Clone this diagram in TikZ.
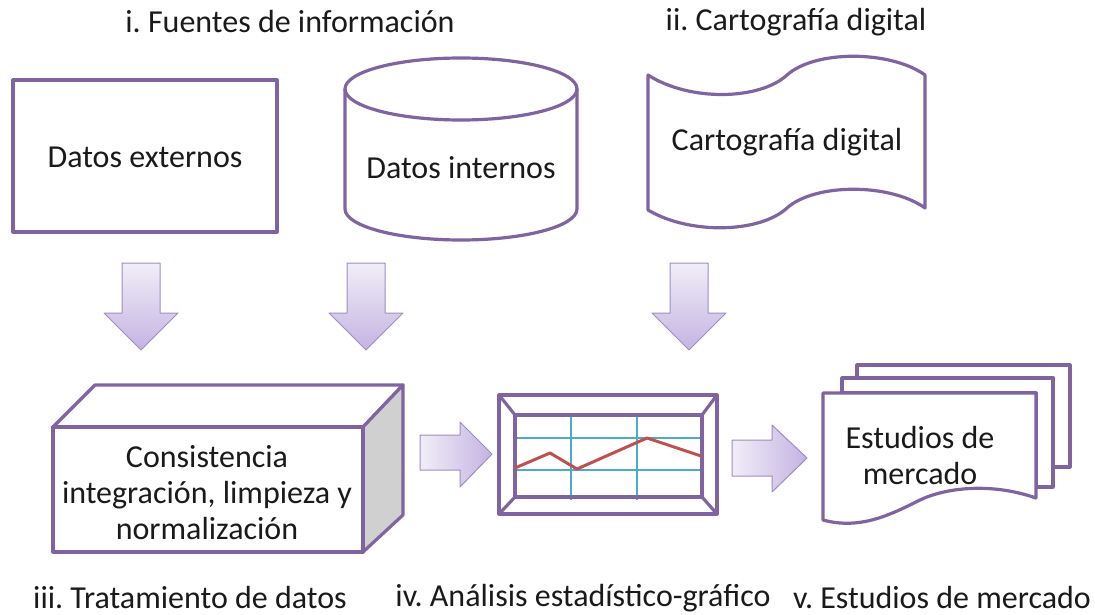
\documentclass[tikz,border=0pt]{standalone}
\usepackage{fontspec}
\setmainfont{Carlito}
\definecolor{purp}{HTML}{8064A2}
\definecolor{arrd}{HTML}{A08CC6}
\definecolor{arrtop}{HTML}{F1EEF8}
\definecolor{arrbot}{HTML}{C4B3E2}
\definecolor{gridc}{HTML}{4BACC6}
\definecolor{redc}{HTML}{C0504D}
\definecolor{sidec}{HTML}{D0D0D0}
\definecolor{txt}{HTML}{1A1A1A}
\frenchspacing
\begin{document}
\begin{tikzpicture}[x=1pt,y=-1pt,line join=round,
  pur/.style={draw=purp,line width=3.2pt},
  lbl/.style={font=\fontsize{32}{36}\selectfont,text=txt,align=center,inner sep=0pt},
  dwnarrow/.style={draw=arrd,line width=1pt,top color=arrtop,bottom color=arrbot},
  rgtarrow/.style={draw=arrd,line width=1pt,left color=arrtop,right color=arrbot},
]
\useasboundingbox (0,0) rectangle (1095,615);

% titles
\node[lbl] (t1) at (290,22) {i. Fuentes de información};
\node[lbl] (t2) at (796,22) {ii. Cartografía digital};
\node[lbl] (t3) at (190,598) {iii. Tratamiento de datos};
\node[lbl] (t4) at (583,598) {iv. Análisis estadístico-gráfico};
\node[lbl] (t5) at (942,598) {v. Estudios de mercado};

% Datos externos
\draw[pur,fill=white] (13,80) rectangle (277,232);
\node[lbl] (ext) at (145,157) {Datos externos};

% Datos internos (cylinder)
\draw[pur,fill=white] (345,89) -- (345,209) arc[start angle=180,end angle=360,x radius=116pt,y radius=31pt] -- (577,89);
\draw[pur] (461,89) ellipse[x radius=116pt,y radius=31pt];
\node[lbl] (int) at (461,168) {Datos internos};

% Cartografia digital (tape)
\draw[pur,fill=white] (648,75) .. controls (690,102) and (760,100) .. (787,75)
  .. controls (815,50) and (890,50) .. (925,75) -- (925,208)
  .. controls (890,183) and (815,183) .. (787,208)
  .. controls (760,233) and (690,235) .. (648,210) -- cycle;
\node[lbl] (car) at (787,142) {Cartografía digital};

% down arrows
\draw[dwnarrow] (122,263) -- (160,263) -- (160,313) -- (178,313) -- (141,350) -- (104,313) -- (122,313) -- cycle;
\draw[dwnarrow] (347,263) -- (385,263) -- (385,313) -- (403,313) -- (366,350) -- (329,313) -- (347,313) -- cycle;
\draw[dwnarrow] (670,263) -- (708,263) -- (708,313) -- (726,313) -- (689,350) -- (652,313) -- (670,313) -- cycle;

% 3D box
\draw[pur,fill=white] (53,427) -- (95,385) -- (403,385) -- (363,427) -- cycle;
\draw[pur,fill=sidec] (363,427) -- (403,385) -- (403,515) -- (363,552) -- cycle;
\draw[pur,fill=white] (53,427) rectangle (363,552);
\node[lbl] (box) at (207,493) {Consistencia\\integración, limpieza y\\normalización};

% right arrows
\draw[rgtarrow] (420,435) -- (460,435) -- (460,422) -- (492,454) -- (460,487) -- (460,470) -- (420,470) -- cycle;
\draw[rgtarrow] (732,440) -- (772,440) -- (772,425) -- (807,458) -- (772,492) -- (772,476) -- (732,476) -- cycle;

% chart
\draw[pur,fill=white] (499,395) rectangle (717,514);
\draw[gridc,line width=1.5pt] (571,415) -- (571,500) (637,415) -- (637,500)
  (515,438) -- (702,438) (515,470) -- (702,470);
\draw[pur] (515,415) rectangle (702,497);
\draw[pur] (499,395) -- (515,415) (717,395) -- (702,415) (499,514) -- (515,497) (717,514) -- (702,497);
\draw[redc,line width=3pt,line cap=round] (515,468) -- (550,453) -- (577,469) -- (647,438) -- (701,456);
\coordinate (chart) at (608,454);

% multi document
\draw[pur,fill=white] (857,365) -- (1070,365) -- (1070,467) -- (1053,467) -- (1053,378) -- (857,378) -- cycle;
\draw[pur,fill=white] (842,378) -- (1053,378) -- (1053,487) -- (1036,487) -- (1036,393) -- (842,393) -- cycle;
\draw[pur,fill=white] (823,393) -- (1036,393) -- (1036,498)
  .. controls (990,482) and (945,488) .. (920,500)
  .. controls (890,515) and (860,530) .. (823,520) -- cycle;
\node[lbl] (est) at (920,456) {Estudios de\\mercado};
\end{tikzpicture}
\end{document}
